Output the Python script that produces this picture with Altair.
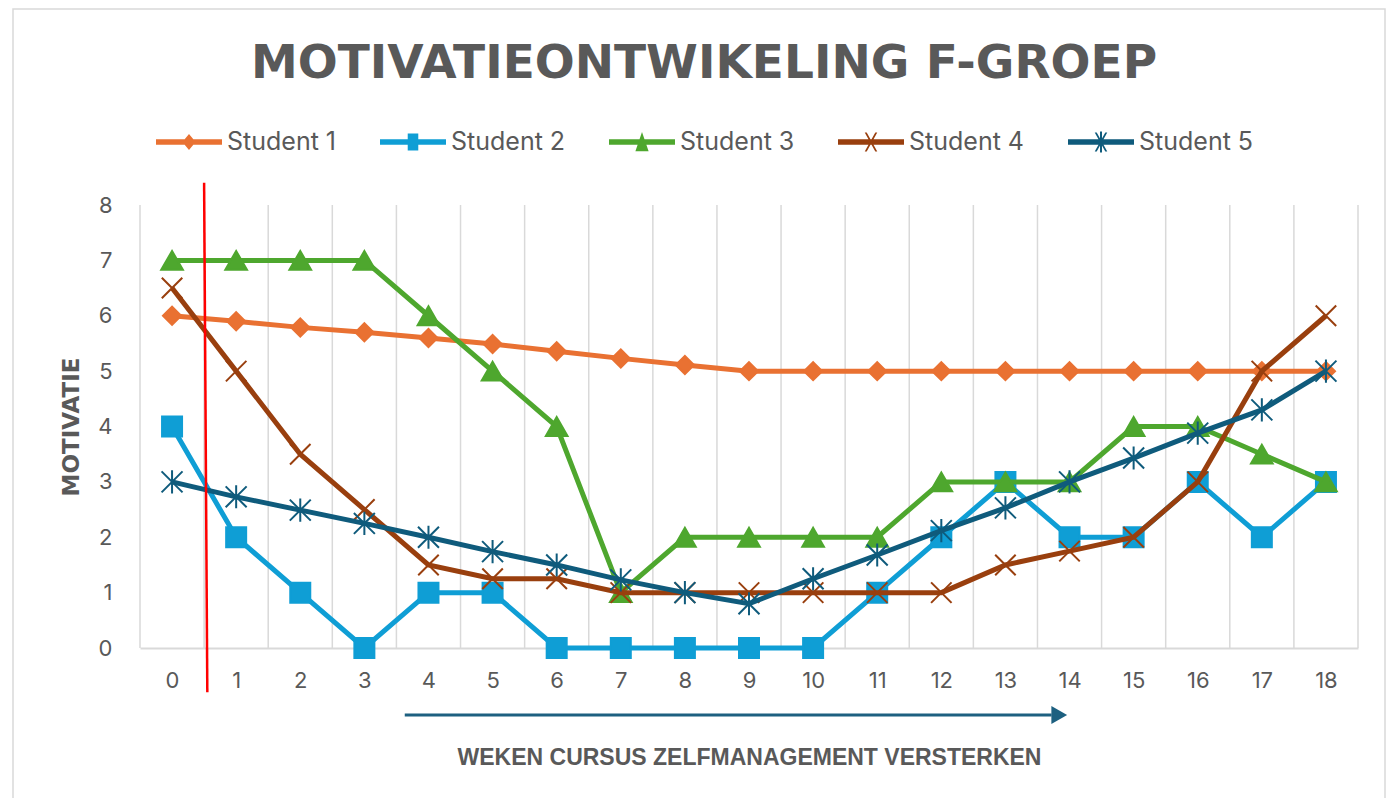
import altair as alt
import pandas as pd

# ---------------- data ----------------
weeks = list(range(19))
names = ["Student 1", "Student 2", "Student 3", "Student 4", "Student 5"]
student1 = [6, 5.9, 5.79, 5.7, 5.6, 5.49, 5.36, 5.23, 5.11, 5, 5, 5, 5, 5, 5, 5, 5, 5, 5]
student2 = [4, 2, 1, 0, 1, 1, 0, 0, 0, 0, 0, 1, 2, 3, 2, 2, 3, 2, 3]
student3 = [7, 7, 7, 7, 6, 5, 4, 1, 2, 2, 2, 2, 3, 3, 3, 4, 4, 3.5, 3]
student4 = [6.5, 5, 3.5, 2.5, 1.5, 1.25, 1.25, 1, 1, 1, 1, 1, 1, 1.5, 1.75, 2, 3, 5, 6]
student5 = [3, 2.73, 2.49, 2.25, 2, 1.74, 1.5, 1.23, 1, 0.8, 1.25, 1.68, 2.12, 2.53, 3, 3.43, 3.88, 4.3, 5]
series_values = [student1, student2, student3, student4, student5]
y_ticks = [0, 1, 2, 3, 4, 5, 6, 7, 8]

title_text = "MOTIVATIEONTWIKELING F-GROEP"
x_title = "WEKEN CURSUS ZELFMANAGEMENT VERSTERKEN"
y_title = "MOTIVATIE"

# annotation values (in data units)
red_line_x = [0.5, 0.55]
red_line_y = [8.4, -0.8]
arrow_x = [3.63, 13.72]
arrow_head_x = 13.84

# ---------------- styles ----------------
colors = ["#E97132", "#0F9ED5", "#4EA72E", "#993F0E", "#0F5B7C"]
shapes = [
    "diamond",
    "square",
    "triangle-up",
    "M-1,-1L1,1M-1,1L1,-1",
    "M-1,-1L1,1M-1,1L1,-1M0,-1.1L0,1.1",
]
filled = [True, True, True, False, False]
sizes = [330, 400, 470, 420, 440]

legend_paths = [
    "M-1,-0.08H1V0.08H-1Z M0,-0.24L0.2,0L0,0.24L-0.2,0Z",
    "M-1,-0.08H1V0.08H-1Z M-0.16,-0.26H0.16V0.26H-0.16Z",
    "M-1,-0.08H1V0.08H-1Z M0,-0.3L0.2,0.28L-0.2,0.28Z",
    "M-1,-0.08H1V0.08H-1Z M-0.19,-0.29L-0.13,-0.29L0.19,0.29L0.13,0.29Z M0.13,-0.29L0.19,-0.29L-0.13,0.29L-0.19,0.29Z",
    "M-1,-0.08H1V0.08H-1Z M-0.19,-0.29L-0.13,-0.29L0.19,0.29L0.13,0.29Z M0.13,-0.29L0.19,-0.29L-0.13,0.29L-0.19,0.29Z M-0.03,-0.32H0.03V0.32H-0.03Z",
]

TEXT = "#595959"
GRID = "#D9D9D9"

rows = []
for n, vals in zip(names, series_values):
    for w, v in zip(weeks, vals):
        rows.append({"series": n, "week": w, "value": v})
df = pd.DataFrame(rows)

bounds = [w - 0.5 for w in weeks] + [weeks[-1] + 0.5]
grid_df = pd.DataFrame({"week": bounds})

W, H = 1218, 443
x_scale = alt.Scale(domain=[-0.5, 18.5], nice=False, zero=False)
y_scale = alt.Scale(domain=[0, 8], nice=False, zero=False)

x_axis = alt.Axis(
    values=weeks, format="d", grid=False, ticks=False,
    domainColor=GRID, domainWidth=2,
    labelFont="Inter", labelFontSize=22, labelColor=TEXT, labelPadding=22,
    labelFlush=False, labelOverlap=False,
    title=x_title, titleFont="Liberation Sans", titleFontSize=23, titleFontWeight="bold",
    titleColor=TEXT, titleX=W / 2, titleY=109, titleBaseline="middle", titleAlign="center",
)
y_axis = alt.Axis(
    values=y_ticks, format="d", grid=False, ticks=False, domain=False,
    labelFont="Inter", labelFontSize=22, labelColor=TEXT, labelPadding=28,
    title=y_title, titleFont="DejaVu Sans", titleFontSize=23, titleFontWeight="bold",
    titleColor=TEXT, titleX=-69, titleY=H / 2, titleAngle=270,
    titleBaseline="middle", titleAlign="center",
)


def xenc(field="week"):
    return alt.X(f"{field}:Q", scale=x_scale, axis=x_axis)


def yenc():
    return alt.Y("value:Q", scale=y_scale, axis=y_axis)


# gridlines (between categories)
grid = alt.Chart(grid_df).mark_rule(color=GRID, strokeWidth=1.5).encode(x=xenc())

layers = [grid]
for n, c, sh, fl, sz in zip(names, colors, shapes, filled, sizes):
    sub = df[df["series"] == n]
    line = alt.Chart(sub).mark_line(color=c, strokeWidth=5).encode(x=xenc(), y=yenc())
    if fl:
        pts = alt.Chart(sub).mark_point(
            shape=sh, filled=True, size=sz, fill=c, stroke=c, strokeWidth=2, opacity=1
        )
    else:
        pts = alt.Chart(sub).mark_point(
            shape=sh, filled=False, size=sz, color=c, strokeWidth=2, opacity=1
        )
    pts = pts.encode(x=xenc(), y=yenc())
    layers += [line, pts]

# legend (dummy layer carrying only the legend)
leg = alt.Legend(
    orient="none", legendX=16, legendY=-96, direction="horizontal", columns=5,
    title=None, symbolSize=4356, symbolStrokeWidth=0, padding=0,
    labelFont="Inter", labelFontSize=25, labelColor=TEXT, labelOffset=5,
    columnPadding=43,
)
legend_layer = alt.Chart(df).transform_filter("datum.week < 0").mark_point(
    filled=True, size=4356, opacity=1
).encode(
    color=alt.Color("series:N", scale=alt.Scale(domain=names, range=colors), legend=leg),
    shape=alt.Shape("series:N", scale=alt.Scale(domain=names, range=legend_paths), legend=leg),
)
layers.append(legend_layer)

# red vertical marker line
red = alt.Chart(pd.DataFrame({"a": [0]})).mark_rule(color="#FF0000", strokeWidth=2.5).encode(
    x=alt.datum(red_line_x[0]),
    x2=alt.datum(red_line_x[1]),
    y=alt.datum(red_line_y[0]),
    y2=alt.datum(red_line_y[1]),
)
layers.append(red)

# arrow under the x axis
arrow = alt.Chart(pd.DataFrame({"a": [0]})).mark_rule(color="#1D6080", strokeWidth=3).encode(
    x=alt.datum(arrow_x[0]), x2=alt.datum(arrow_x[1]), y=alt.value(510)
)
arrow_head = alt.Chart(pd.DataFrame({"a": [0]})).mark_point(
    shape="triangle-right", filled=True, size=330, color="#1D6080", opacity=1
).encode(x=alt.datum(arrow_head_x), y=alt.value(510))
layers += [arrow, arrow_head]

# title
title = alt.Chart(pd.DataFrame({"t": [title_text]})).mark_text(
    font="DejaVu Sans", fontSize=47, fontWeight="bold", color=TEXT,
    align="center", baseline="alphabetic",
).encode(text="t:N", x=alt.value(564), y=alt.value(-127))
layers.append(title)

# border
border = alt.Chart(pd.DataFrame({"a": [0]})).mark_rect(
    filled=False, stroke=GRID, strokeWidth=1.5
).encode(x=alt.value(-127), x2=alt.value(1245), y=alt.value(-196), y2=alt.value(700))
layers.append(border)

chart = alt.layer(*layers).properties(
    width=W, height=H,
    autosize=alt.AutoSizeParams(type="none"),
    padding={"left": 132, "top": 197, "right": 28, "bottom": 150},
    background="white",
).configure_view(stroke=None)

chart.save("out.html", embed_options={"renderer": "svg", "actions": False})
